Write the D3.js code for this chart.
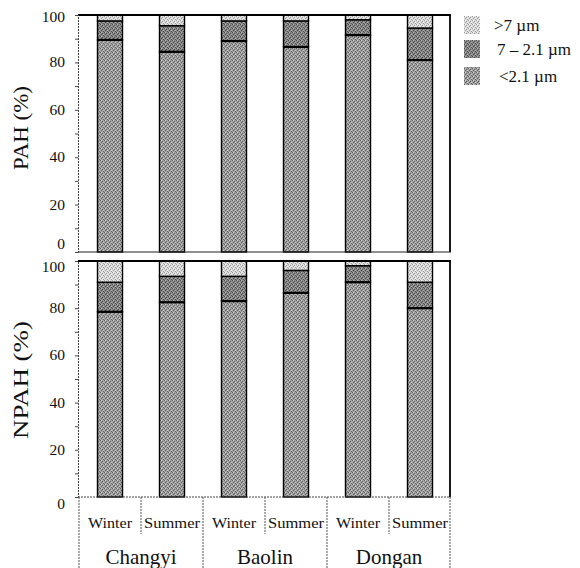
<!DOCTYPE html>
<html><head><meta charset="utf-8">
<script src="https://cdn.jsdelivr.net/npm/d3@7"></script>
<style>body{margin:0;background:#fff}svg{display:block}</style>
</head><body><svg id="c" width="580" height="568"></svg>
<script>
const sites = ["Changyi","Baolin","Dongan"];
const seasons = ["Winter","Summer"];
const bars = ["Changyi Winter","Changyi Summer","Baolin Winter","Baolin Summer","Dongan Winter","Dongan Summer"];
const sizeKeys = ["fine","mid","coarse"];
const sizeLabels = {coarse:">7 µm", mid:"7 – 2.1 µm", fine:"<2.1 µm"};
const pahFine   = [89.5, 84.5, 89, 86.5, 91.5, 81];
const pahMid    = [8, 11, 8.5, 11, 6.5, 13.5];
const pahCoarse = [2.5, 4.5, 2.5, 2.5, 2, 5.5];
const npahFine   = [78.5, 82.5, 83, 86.5, 91, 80];
const npahMid    = [12.5, 11, 10.5, 9.5, 7, 11];
const npahCoarse = [9, 6.5, 6.5, 4, 2, 9];
const yTicks = [0,20,40,60,80,100];

const SERIF = "'Liberation Serif','Times New Roman','DejaVu Serif',serif";
const svg = d3.select("#c").attr("font-family", SERIF);
const defs = svg.append("defs");
function pat(id, bg, dot, light){
  const p = defs.append("pattern").attr("id",id).attr("width",4).attr("height",4).attr("patternUnits","userSpaceOnUse");
  p.append("rect").attr("width",4).attr("height",4).attr("fill",bg);
  [[0,0],[2,1],[1,2],[3,3]].forEach(([a,b])=>p.append("rect").attr("x",a).attr("y",b).attr("width",1).attr("height",1).attr("fill",dot));
  [[1,0],[3,2]].forEach(([a,b])=>p.append("rect").attr("x",a).attr("y",b).attr("width",1).attr("height",1).attr("fill",light));
}
pat("pCoarse","#dcdcdc","#9a9a9a","#f4f4f4");
pat("pMid","#8a8a8a","#474747","#b6b6b6");
pat("pFine","#a2a2a2","#606060","#cecece");
const fills = {coarse:"url(#pCoarse)", mid:"url(#pMid)", fine:"url(#pFine)"};

const x = d3.scaleBand().domain(bars).range([79,451]).padding(0);
const barW = 25;

function txt(sel){ return sel.attr("font-family", SERIF).attr("fill","#111"); }

function panel(yTop, yBot, fine, mid, coarse, label, labelY, labelLen, isTop){
  const y = d3.scaleLinear().domain([0,100]).range([yBot,yTop]);
  const rows = bars.map((b,i)=>({bar:b, fine:fine[i], mid:mid[i], coarse:coarse[i]}));
  const stacked = d3.stack().keys(sizeKeys)(rows);
  const g = svg.append("g");
  stacked.forEach(s=>{
    g.selectAll(null).data(s).enter().append("rect")
      .attr("x", d=>x(d.data.bar)+x.bandwidth()/2-barW/2)
      .attr("width", barW)
      .attr("y", d=>y(d[1]))
      .attr("height", d=>y(d[0])-y(d[1]))
      .attr("fill", fills[s.key])
      .attr("stroke","#000").attr("stroke-width", 1.4);
  });
  g.selectAll(null).data(stacked[0]).enter().append("line")
    .attr("x1", d=>x(d.data.bar)+x.bandwidth()/2-barW/2)
    .attr("x2", d=>x(d.data.bar)+x.bandwidth()/2+barW/2)
    .attr("y1", d=>y(d[1])).attr("y2", d=>y(d[1]))
    .attr("stroke","#000").attr("stroke-width",2.2);
  g.append("line").attr("x1",78).attr("x2",451).attr("y1",yTop).attr("y2",yTop).attr("stroke","#000").attr("stroke-width",2.2);
  g.append("line").attr("x1",450).attr("x2",450).attr("y1",yTop).attr("y2",yBot).attr("stroke","#000").attr("stroke-width",1.8);
  const ax = g.append("g").attr("transform","translate(78,0)")
    .call(d3.axisLeft(y).tickValues(d3.range(0,101,10)).tickSize(3).tickFormat(""));
  ax.select(".domain").attr("stroke","#444").attr("stroke-dasharray","2,1");
  ax.selectAll(".tick line").attr("stroke","#444");
  const off = d => {
    if (isTop && d===0) return -3;
    if (!isTop && d===100) return 11;
    if (!isTop && d===0) return 12;
    return 5 + (d===100?2:0);
  };
  txt(g.selectAll(null).data(yTicks).enter().append("text"))
    .attr("x",65).attr("y",d=>y(d)+off(d))
    .attr("text-anchor","end").attr("font-size",15.5).text(d=>d);
  txt(g.append("text")).attr("transform",`translate(28,${labelY}) rotate(-90)`)
    .attr("text-anchor","middle").attr("font-size",20)
    .attr("textLength",labelLen).attr("lengthAdjust","spacingAndGlyphs").text(label);
  return y;
}
panel(15, 252, pahFine, pahMid, pahCoarse, "PAH (%)", 128, 84, true);
panel(261, 497, npahFine, npahMid, npahCoarse, "NPAH (%)", 380, 118, false);

svg.append("line").attr("x1",78).attr("x2",451).attr("y1",497).attr("y2",497).attr("stroke","#444").attr("stroke-width",1.2).attr("stroke-dasharray","2,1");
svg.append("line").attr("x1",78).attr("x2",451).attr("y1",252).attr("y2",252).attr("stroke","#222").attr("stroke-width",1.2);

const tbl = svg.append("g");
bars.forEach((b,i)=>{
  const x0 = x(b);
  const full = i%2===0;
  tbl.append("line").attr("x1",x0).attr("x2",x0).attr("y1",497).attr("y2", full?568:534)
    .attr("stroke","#555").attr("stroke-dasharray","2,1");
  txt(tbl.append("text")).attr("x",x0+x.bandwidth()/2).attr("y",528).attr("text-anchor","middle")
    .attr("font-size",15).attr("textLength", i%2===0?44:56).attr("lengthAdjust","spacingAndGlyphs")
    .text(seasons[i%2]);
});
tbl.append("line").attr("x1",450).attr("x2",450).attr("y1",497).attr("y2",568).attr("stroke","#555").attr("stroke-dasharray","2,1");
sites.forEach((s,i)=>{
  const cx = x(bars[i*2]) + x.bandwidth();
  txt(tbl.append("text")).attr("x",cx).attr("y",564).attr("text-anchor","middle").attr("font-size",21).text(s);
});

const leg = svg.append("g");
["coarse","mid","fine"].forEach((k,i)=>{
  const yy = [16,40,67][i];
  leg.append("rect").attr("x",464).attr("y",yy).attr("width",16).attr("height",18).attr("fill",fills[k]);
  txt(leg.append("text")).attr("x",[494,497,499][i]).attr("y",yy+15).attr("font-size",17).text(sizeLabels[k]);
});
</script></body></html>
